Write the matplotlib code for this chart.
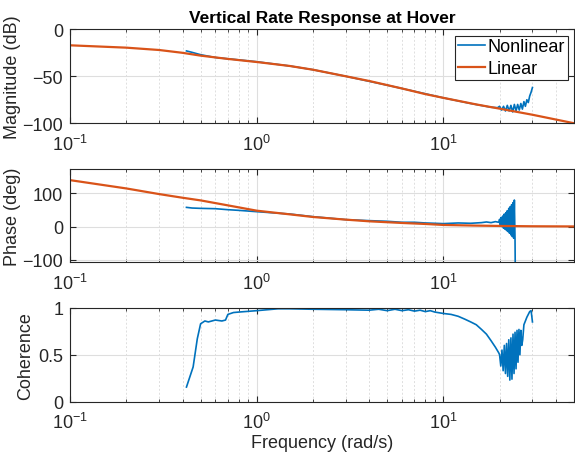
import numpy as np
import matplotlib.pyplot as plt

plt.rcParams['font.family'] = ['Liberation Sans', 'DejaVu Sans']

# linear model
f_lin = [0.1, 0.2, 0.3, 0.4, 0.5, 0.7, 1, 1.5, 2, 3, 4, 6, 8, 10, 15, 20, 30, 50]
mag_lin = [-17, -19.5, -22, -25, -28, -31.5, -34.8, -39, -43, -50, -55, -63, -69, -73, -80, -84.5, -91, -100]
ph_lin = [140, 115, 98, 87, 79, 64, 48, 37, 29, 21, 16, 11, 8, 5, 3, 2, 1, 0.5]

# nonlinear (identified) magnitude
f_nl_mag = [0.42, 0.45, 0.5, 0.6, 0.8, 1, 1.5, 2, 3, 5, 7, 10, 14, 18, 19.5, 20, 20.5, 21, 21.5, 22,
            22.5, 23, 23.5, 24, 24.5, 25, 25.5, 26, 26.5, 27, 27.5, 28, 28.5, 29, 29.5, 30]
mag_nl = [-23, -24.5, -27, -30, -32.5, -34.5, -39, -43, -50, -59.5, -66, -73, -79, -83, -83.5, -82, -86, -82, -87, -81,
          -87, -81, -88, -80, -87, -80, -86, -79, -85, -77, -82, -75, -78, -71, -67, -62]

# nonlinear phase
f_nl_ph = [0.42, 0.45, 0.5, 0.6, 0.7, 0.8, 1, 1.5, 2, 3, 4, 5, 6, 7, 8, 10, 12, 14, 16, 17, 18, 19, 19.8,
           20.0, 20.2, 20.4, 20.6, 20.8, 21.0, 21.2, 21.4, 21.6, 21.8, 22.0, 22.2, 22.4, 22.6, 22.8, 23.0,
           23.2, 23.4, 23.6, 23.8, 24.0, 24.2, 24.4]
ph_nl = [58, 56, 55, 54, 51, 49, 45, 38, 30, 21, 18, 16, 13, 13, 11, 9, 11, 10, 12, 14, 12, 15, 13,
         22, 3, 28, 0, 32, -5, 38, -8, 42, -12, 48, -15, 55, -20, 60, -25, 66, -30, 72, -35, 80, -40, -300]

# coherence
f_coh = [0.42, 0.456, 0.48, 0.5, 0.527, 0.55, 0.6, 0.65, 0.68, 0.7, 0.75, 0.8, 1.0, 1.3, 1.5, 2, 3, 4, 4.5, 5,
         5.5, 6, 6.5, 7, 7.5, 8, 8.5, 9, 10, 11, 12, 13, 14, 15, 16, 17, 18, 19, 19.8,
         20.0, 20.3, 20.6, 20.9, 21.2, 21.5, 21.8, 22.1, 22.4, 22.7, 23.0, 23.3, 23.6, 23.9, 24.2, 24.5,
         24.8, 25.1, 25.4, 25.7, 26.0, 26.3, 26.6, 27.0, 27.5, 28.0, 28.5, 29.0, 29.5, 29.8, 30.0]
coh = [0.156, 0.37, 0.67, 0.83, 0.86, 0.85, 0.87, 0.86, 0.87, 0.93, 0.95, 0.955, 0.97, 0.99, 0.99, 0.985, 0.98,
       0.975, 0.985, 0.97, 0.985, 0.97, 0.98, 0.965, 0.975, 0.96, 0.97, 0.955, 0.94, 0.93, 0.91, 0.88, 0.85,
       0.82, 0.77, 0.72, 0.65, 0.58, 0.52,
       0.50, 0.38, 0.55, 0.33, 0.60, 0.30, 0.62, 0.27, 0.66, 0.23, 0.68, 0.24, 0.72, 0.30, 0.74, 0.35,
       0.76, 0.42, 0.77, 0.50, 0.76, 0.60, 0.66, 0.82, 0.86, 0.90, 0.93, 0.96, 0.97, 0.90, 0.85]

blue = '#0072BD'
orange = '#D95319'
axcol = '#262626'
fs = 13

fig = plt.figure(figsize=(5.75, 4.6), dpi=100)
ax1 = fig.add_axes([0.122, 0.730, 0.876, 0.204])
ax2 = fig.add_axes([0.122, 0.428, 0.876, 0.202])
ax3 = fig.add_axes([0.122, 0.1246, 0.876, 0.204])

ax1.semilogx(f_nl_mag, mag_nl, color=blue, lw=1.2, label='Nonlinear')
ax1.semilogx(f_lin, mag_lin, color=orange, lw=1.6, label='Linear')
ax2.semilogx(f_nl_ph, ph_nl, color=blue, lw=1.2)
ax2.semilogx(f_lin, ph_lin, color=orange, lw=1.6)
ax3.semilogx(f_coh, coh, color=blue, lw=1.2)

ax1.set_ylim(-100, 0)
ax1.set_yticks([-100, -50, 0])
ax2.set_ylim(-107, 173)
ax2.set_yticks([-100, 0, 100])
ax3.set_ylim(0, 1)
ax3.set_yticks([0, 0.5, 1])
ax3.set_yticklabels(['0', '0.5', '1'])

for ax in (ax1, ax2, ax3):
    ax.set_xlim(0.1, 50)
    ax.grid(True, which='major', color='#dedede', lw=0.8, ls='-')
    ax.grid(True, which='minor', axis='x', color='#dedede', lw=0.7, ls=(0, (2, 2)))
    ax.tick_params(which='both', direction='in', top=True, right=True, colors=axcol,
                   labelsize=fs, labelcolor=axcol)
    ax.tick_params(which='major', length=4)
    ax.tick_params(which='minor', length=2.5)
    ax.tick_params(axis='x', which='both', pad=7.5)
    ax.tick_params(axis='y', which='both', pad=5)
    for s in ax.spines.values():
        s.set_color(axcol)
        s.set_linewidth(0.8)

ax1.set_ylabel('Magnitude (dB)', fontsize=fs, color=axcol, labelpad=1)
ax2.set_ylabel('Phase (deg)', fontsize=fs, color=axcol, labelpad=1)
ax3.set_ylabel('Coherence', fontsize=fs, color=axcol, labelpad=3)
ax3.set_xlabel('Frequency (rad/s)', fontsize=fs, color=axcol, labelpad=1)
ax1.set_title('Vertical Rate Response at Hover', fontsize=12.5, fontweight='bold', pad=5)

leg = ax1.legend(loc='upper right', fontsize=fs, fancybox=False, framealpha=1,
                 edgecolor=axcol, handlelength=1.5, borderaxespad=0.35, labelspacing=0.25,
                 handletextpad=0.15, borderpad=0.15)
leg.get_frame().set_linewidth(0.8)

fig.savefig('out.png', dpi=100)
